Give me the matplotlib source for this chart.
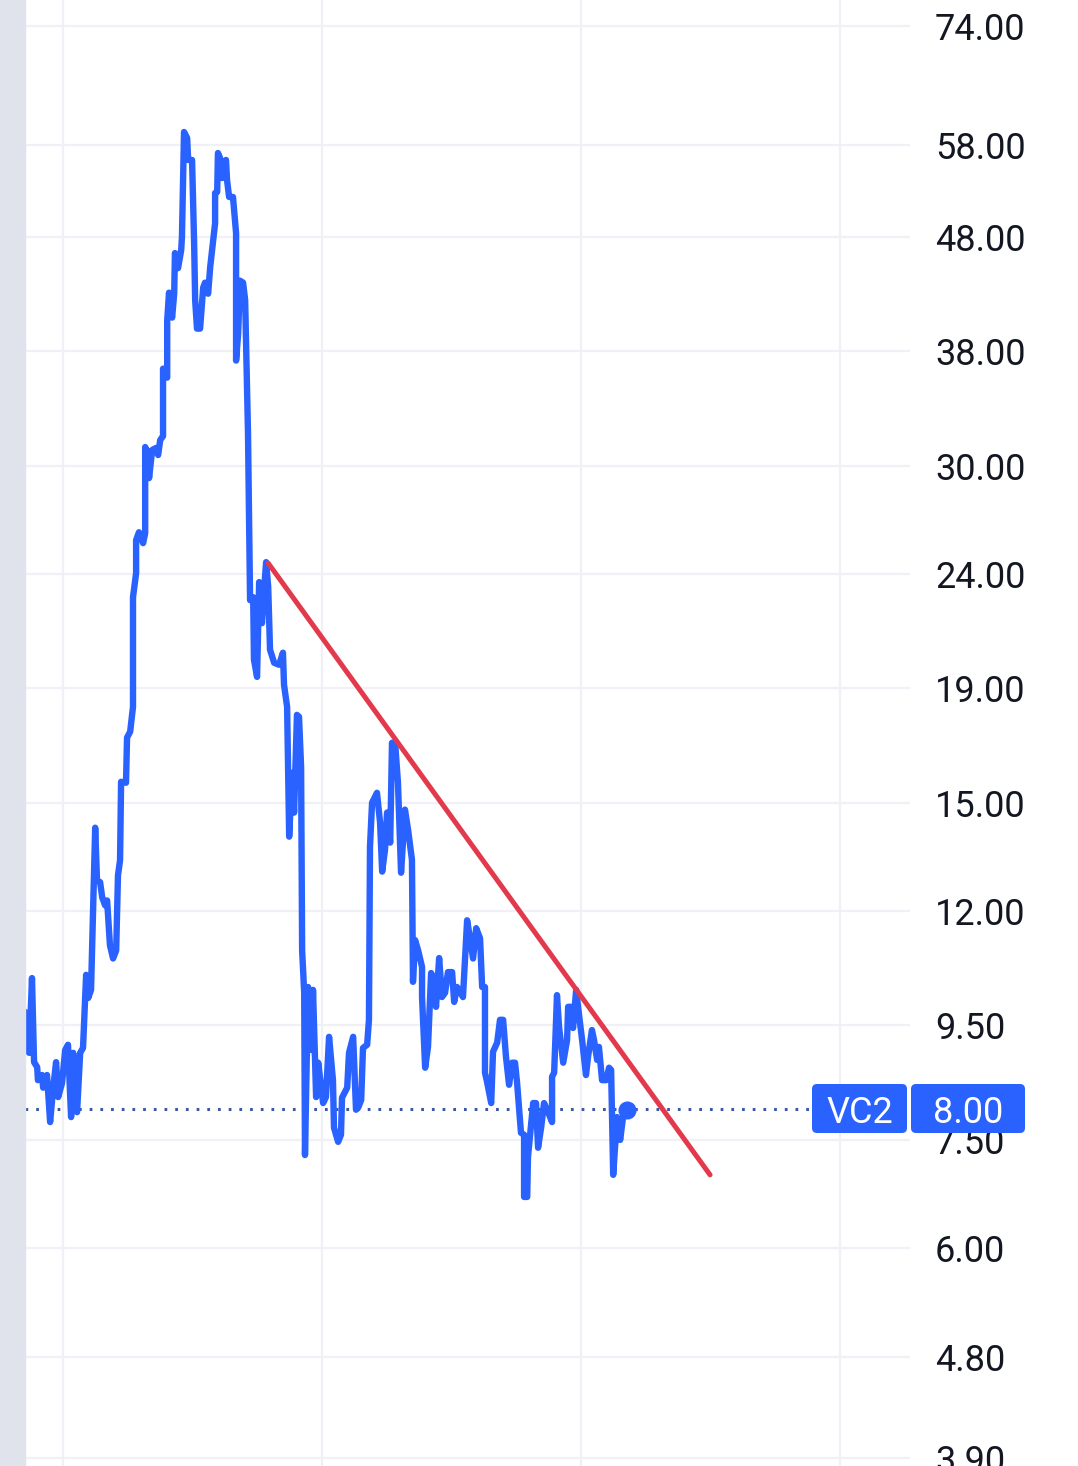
import matplotlib.pyplot as plt
from matplotlib.patches import Rectangle, FancyBboxPatch

plt.rcParams['font.family'] = ['Roboto', 'DejaVu Sans']

# Serie de precios (dias sin etiqueta en el eje x)
dias = [-14.7, -13.9, -13.1, -12.0, -11.2, -10.0, -9.7, -8.1, -7.7, -6.2,
        -5.0, -3.9, -2.7, -1.9, -0.4, 0.8, 1.9, 3.1, 3.9, 5.4,
        6.6, 7.7, 8.9, 9.7, 10.8, 12.4, 13.1, 14.3, 15.1, 16.2,
        17.0, 18.1, 19.3, 20.5, 21.2, 22.0, 22.4, 24.3, 24.7, 25.9,
        27.0, 27.0, 28.2, 28.2, 29.3, 30.9, 31.7, 31.7, 32.8, 33.2,
        34.4, 35.9, 36.7, 37.5, 38.6, 38.6, 40.2, 40.2, 40.9, 42.1,
        42.9, 43.2, 44.4, 45.6, 45.9, 46.7, 47.9, 48.3, 49.8, 50.6,
        51.0, 51.7, 52.9, 54.1, 54.8, 56.0, 56.8, 58.7, 58.7, 59.5,
        59.8, 60.6, 61.4, 62.9, 63.3, 64.1, 65.6, 66.8, 66.8, 67.6,
        68.3, 69.5, 70.3, 71.4, 72.2, 73.4, 73.7, 74.9, 75.7, 76.8,
        77.6, 78.4, 79.2, 79.9, 81.5, 83.4, 84.9, 85.3, 86.5, 87.3,
        88.4, 89.2, 90.3, 91.1, 91.9, 92.3, 93.1, 93.4, 94.6, 96.1,
        96.5, 97.7, 98.5, 100.4, 101.5, 102.7, 104.2, 104.6, 106.2, 107.3,
        107.7, 109.7, 110.4, 112.0, 113.1, 113.9, 115.1, 115.8, 117.4, 118.1,
        118.5, 119.3, 121.2, 121.6, 122.4, 123.2, 124.3, 125.1, 126.3, 127.0,
        128.2, 129.3, 130.5, 132.0, 133.2, 134.7, 135.1, 135.9, 137.1, 138.6,
        138.6, 139.8, 140.9, 142.1, 142.9, 144.0, 145.2, 146.3, 147.5, 148.6,
        150.2, 151.0, 152.1, 154.4, 156.0, 156.8, 158.3, 159.5, 161.0, 161.8,
        162.9, 162.9, 163.7, 165.3, 166.0, 167.6, 168.7, 169.9, 171.0, 172.2,
        173.4, 174.5, 175.3, 176.8, 178.0, 178.0, 179.2, 179.5, 181.5, 182.6,
        183.4, 184.6, 185.7, 186.9, 188.8, 188.8, 189.6, 190.7, 191.5, 193.1,
        194.6, 195.0, 196.1, 196.9, 198.1, 199.2, 200.4, 201.9, 202.7, 204.2,
        205.0, 206.2, 206.9, 208.1, 209.7, 210.8, 211.6, 212.4, 213.9, 215.1,
        216.2, 217.8]
precio = [9.76, 9.02, 8.97, 10.46, 8.80, 8.71, 8.48, 8.57, 8.35, 8.57,
          7.78, 8.31, 8.80, 8.19, 8.43, 9.02, 9.12, 7.86, 8.97, 7.94,
          8.97, 9.06, 10.53, 10.04, 10.21, 14.25, 12.79, 12.74, 12.35, 12.15,
          12.27, 11.19, 10.89, 11.07, 12.92, 13.33, 15.66, 15.63, 17.15, 17.36,
          18.27, 22.89, 24.05, 25.74, 26.16, 25.58, 26.11, 31.17, 30.79, 29.24,
          30.98, 31.11, 30.66, 31.62, 31.88, 36.62, 35.95, 40.42, 42.81, 40.67,
          42.72, 46.44, 45.03, 46.72, 48.0, 59.57, 58.84, 56.24, 56.24, 47.40,
          42.16, 39.76, 39.76, 43.26, 43.70, 42.72, 45.12, 49.39, 52.55, 52.66,
          57.05, 56.47, 54.19, 56.24, 53.98, 52.12, 52.12, 48.38, 37.23, 39.35,
          43.88, 43.70, 42.16, 32.08, 22.75, 22.89, 20.13, 19.43, 23.61, 21.70,
          23.22, 24.60, 23.37, 20.55, 20.00, 19.92, 20.42, 19.12, 18.27, 13.99,
          15.95, 14.70, 17.97, 17.90, 16.15, 11.07, 10.15, 7.27, 10.27, 9.02,
          10.21, 8.19, 8.79, 8.09, 8.19, 9.27, 8.48, 7.69, 7.47, 7.58,
          8.18, 8.35, 8.97, 9.27, 7.98, 8.01, 8.14, 9.06, 9.12, 9.60,
          13.70, 15.00, 15.31, 15.00, 14.40, 13.02, 13.62, 14.70, 13.82, 16.97,
          16.97, 15.63, 12.99, 14.79, 14.19, 13.34, 10.38, 11.31, 11.07, 10.70,
          10.06, 8.70, 9.08, 10.57, 10.46, 9.86, 10.90, 10.06, 10.15, 10.59,
          10.59, 9.96, 10.27, 10.06, 11.78, 11.47, 10.89, 11.59, 11.35, 10.27,
          10.27, 8.61, 8.45, 8.09, 8.99, 9.16, 9.60, 9.60, 8.90, 8.40,
          8.79, 8.79, 8.43, 7.61, 7.58, 6.67, 6.67, 7.24, 8.09, 8.09,
          7.38, 7.70, 8.09, 7.98, 7.78, 8.54, 8.61, 10.10, 9.46, 8.79,
          9.21, 9.86, 9.86, 9.44, 10.21, 9.70, 9.21, 8.57, 8.90, 9.40,
          9.21, 8.84, 9.08, 8.48, 8.48, 8.70, 8.66, 6.98, 7.86, 7.50,
          7.86, 7.98]

# Linea de tendencia bajista
tend_x = [79.2, 249.8]
tend_y = [24.55, 6.98]

ultimo = 8.00
simbolo = 'VC2'
niveles = [74, 58, 48, 38, 30, 24, 19, 15, 12, 9.5, 7.5, 6, 4.8, 3.9]
etiquetas = ['74.00', '58.00', '48.00', '38.00', '30.00', '24.00', '19.00',
             '15.00', '12.00', '9.50', '7.50', '6.00', '4.80', '3.90']
verticales = [0, 100, 200, 300]

azul = '#2962ff'

fig = plt.figure(figsize=(10.78, 14.66), dpi=100)
fig.patches.append(Rectangle((0, 0), 25 / 1078, 1, transform=fig.transFigure,
                             color='#e0e3eb', zorder=0))

ax = fig.add_axes([25 / 1078, 0, 885 / 1078, 1])
ax.set_yscale('log')
ax.set_xlim(-14.7, 327)
ax.set_ylim(3.836, 78.14)
ax.set_yticks(niveles)
ax.set_yticklabels(etiquetas)
ax.minorticks_off()
ax.yaxis.tick_right()
ax.tick_params(axis='y', length=0, pad=18, labelsize=26, labelcolor='#131722')
ax.set_xticks(verticales)
ax.tick_params(axis='x', length=0, labelbottom=False)
ax.grid(color='#eff1f6', lw=1.6)
for s in ax.spines.values():
    s.set_visible(False)

ax.axhline(ultimo, color='#3a57a8', lw=2.2, ls=(0, (0.9, 2.6)), zorder=2)
ax.plot(dias, precio, color=azul, lw=4.6, solid_joinstyle='round',
        solid_capstyle='round', zorder=3)
ax.plot(dias[-1], precio[-1], 'o', ms=12, color=azul, zorder=3)
ax.plot(tend_x, tend_y, color='#e23a4c', lw=3.6, solid_capstyle='round', zorder=4)

# Etiqueta de precio actual
yc = ax.transData.transform((0, ultimo))[1] / fig.dpi
h = 0.49
for x0, w, txt in [(8.12, 0.95, simbolo), (9.11, 1.14, f'{ultimo:.2f}')]:
    fig.patches.append(FancyBboxPatch((x0, yc - h / 2), w, h,
                                      boxstyle='round,pad=0,rounding_size=0.05',
                                      transform=fig.dpi_scale_trans,
                                      fc=azul, ec='none', zorder=5))
    fig.text(x0 + w / 2, yc, txt, transform=fig.dpi_scale_trans, ha='center',
             va='center_baseline', color='white', fontsize=26, zorder=6)

fig.savefig('out.png', dpi=100)
